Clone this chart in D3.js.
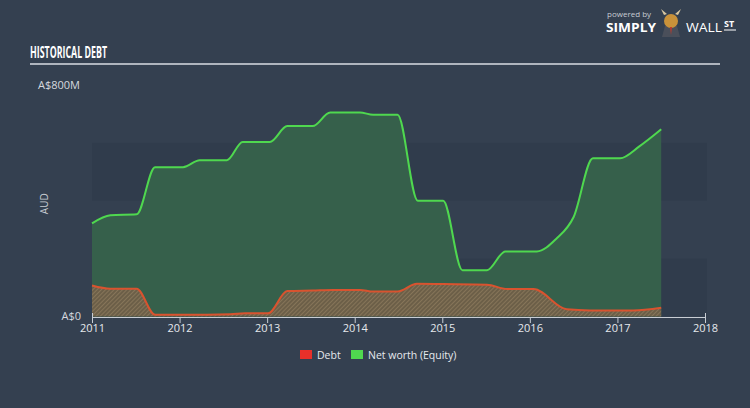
<!DOCTYPE html>
<html><head><meta charset="utf-8">
<script src="https://cdn.jsdelivr.net/npm/d3@7"></script>
<style>
html,body{margin:0;padding:0;background:#344050;}
svg{display:block;}
text{font-family:"Open Sans","Noto Sans",sans-serif;}
</style></head>
<body>
<svg id="chart" width="750" height="408"></svg>
<script>
// ---- data ----
const equityDates  = [2011.0,2011.21,2011.51,2011.72,2012.04,2012.23,2012.54,2012.72,2013.03,2013.23,2013.52,2013.72,2014.06,2014.21,2014.49,2014.72,2015.01,2015.23,2015.51,2015.72,2016.08,2016.3,2016.5,2016.72,2017.03,2017.25,2017.5];
const equityValues = [322,350,353,516,516,540,540,603,603,658,658,705,705,697,697,400,400,160,160,225,225,268,344,547,547,588,647];
const debtDates  = [2011.0,2011.21,2011.51,2011.72,2012.04,2012.58,2012.75,2013.01,2013.23,2013.52,2013.75,2014.06,2014.21,2014.49,2014.71,2015.01,2015.51,2015.74,2016.04,2016.42,2016.69,2017.18,2017.5];
const debtValues = [107,96,96,6,6,8,11,11,88,90,92,92,86,86,113,112,110,95,95,25,21,21,30];
const xTicks = [2011,2012,2013,2014,2015,2016,2017,2018];
const yTickLabels = ["A$0","A$800M"];
const legendItems = [{name:"Debt",color:"#e8302a"},{name:"Net worth (Equity)",color:"#4fd84f"}];

const equity = equityDates.map((d,i)=>({t:d,v:equityValues[i]}));
const debt = debtDates.map((d,i)=>({t:d,v:debtValues[i]}));

const svg = d3.select("#chart");
const W=750,H=408;
const x = d3.scaleLinear().domain([2011,2018]).range([92,705]);
const y = d3.scaleLinear().domain([0,800]).range([316.5,85]);

// background
svg.append("rect").attr("width",W).attr("height",H).attr("fill","#344050");

// bands
[[400,600],[0,200]].forEach(b=>{
  svg.append("rect").attr("x",x(2011)).attr("width",x(2018)-x(2011)+2)
    .attr("y",y(b[1])).attr("height",y(b[0])-y(b[1])).attr("fill","#303c4c");
});

// title
svg.append("text").attr("x",30).attr("y",58).text("HISTORICAL DEBT")
  .attr("font-family","'Liberation Sans Narrow','DejaVu Sans Condensed',sans-serif")
  .attr("font-weight","bold").attr("font-size",16).attr("fill","#ffffff")
  .attr("textLength",77).attr("lengthAdjust","spacingAndGlyphs");
svg.append("line").attr("x1",30).attr("x2",720).attr("y1",64).attr("y2",64)
  .attr("stroke","#d8dde3").attr("stroke-width",1.5);

// logo
const logo=svg.append("g");
logo.append("text").attr("x",607).attr("y",17).text("powered by").attr("font-size",8).attr("fill","#c7ccd3");
logo.append("text").attr("x",606).attr("y",32).text("SIMPLY").attr("font-size",13).attr("font-weight","bold").attr("fill","#ffffff")
  .attr("textLength",50).attr("lengthAdjust","spacingAndGlyphs");
logo.append("text").attr("x",686).attr("y",32).text("WALL").attr("font-size",13).attr("fill","#ffffff")
  .attr("textLength",36).attr("lengthAdjust","spacingAndGlyphs");
logo.append("text").attr("x",724).attr("y",27).text("ST").attr("font-size",9).attr("font-weight","bold").attr("fill","#ffffff");
logo.append("line").attr("x1",724).attr("x2",736).attr("y1",30).attr("y2",30).attr("stroke","#fff").attr("stroke-width",1);
logo.append("path").attr("d","M662,37 L665,26 L677,26 L680,37 Z").attr("fill","#4a4f5a");
logo.append("ellipse").attr("cx",671).attr("cy",21).attr("rx",7).attr("ry",7).attr("fill","#c9923a");
logo.append("path").attr("d","M664,15 L661,9 L667,14 Z M678,15 L681,9 L675,14 Z").attr("fill","#d9c7a0");
logo.append("path").attr("d","M670,27 L672,27 L671,35 Z").attr("fill","#c0392b");

// areas
const defs=svg.append("defs");
const pat=defs.append("pattern").attr("id","hatch").attr("patternUnits","userSpaceOnUse")
  .attr("width",3).attr("height",3).attr("patternTransform","rotate(45)");
pat.append("rect").attr("width",3).attr("height",3).attr("fill","#6c5f48");
pat.append("line").attr("x1",0).attr("y1",0).attr("x2",0).attr("y2",3).attr("stroke","#988464").attr("stroke-width",1.2);

const curve=d3.curveMonotoneX;
const area=d3.area().x(d=>x(d.t)).y0(y(0)).y1(d=>y(d.v)).curve(curve);
const line=d3.line().x(d=>x(d.t)).y(d=>y(d.v)).curve(curve);

svg.append("path").datum(equity).attr("d",area).attr("fill","#36604b");
svg.append("path").datum(equity).attr("d",line).attr("fill","none").attr("stroke","#4fd84f").attr("stroke-width",2);
svg.append("path").datum(debt).attr("d",area).attr("fill","url(#hatch)");
svg.append("path").datum(debt).attr("d",line).attr("fill","none").attr("stroke","#d9532f").attr("stroke-width",2);

// x axis
const xa=svg.append("g").attr("transform",`translate(0,${y(0)+0.5})`)
  .call(d3.axisBottom(x).tickValues(xTicks).tickFormat(d3.format("d")).tickSize(6).tickSizeOuter(0));
xa.select(".domain").attr("stroke","#c8cdd4");
xa.selectAll(".tick line").attr("stroke","#c8cdd4");
xa.selectAll(".tick text").attr("fill","#e6e9ed").attr("font-size",11).attr("dy","0.55em")
  .attr("font-family","'Open Sans',sans-serif");
xa.selectAll(".tick").filter(d=>d===2011||d===2018).select("line").attr("y1",-4);

// y labels
svg.append("text").attr("x",38).attr("y",y(800)).attr("dy","0.35em").text(yTickLabels[1])
  .attr("font-size",11).attr("fill","#d5d9df");
svg.append("text").attr("x",81).attr("y",y(0)).attr("dy","0.3em").attr("text-anchor","end").text(yTickLabels[0])
  .attr("font-size",11).attr("fill","#d5d9df");
svg.append("text").attr("transform",`translate(44,${y(400)+3}) rotate(-90)`).attr("text-anchor","middle").attr("dy","0.35em")
  .text("AUD").attr("font-size",10).attr("fill","#c7ccd3");

// legend
const lg=svg.append("g");
let lx=300;
legendItems.forEach((it,i)=>{
  lg.append("rect").attr("x",lx).attr("y",350).attr("width",12).attr("height",9).attr("fill",it.color);
  lg.append("text").attr("x",lx+17).attr("y",355).attr("dy","0.35em").text(it.name)
    .attr("font-size",10.5).attr("fill","#e6e9ed");
  lx += (i===0?51:0);
});
</script>
</body></html>
